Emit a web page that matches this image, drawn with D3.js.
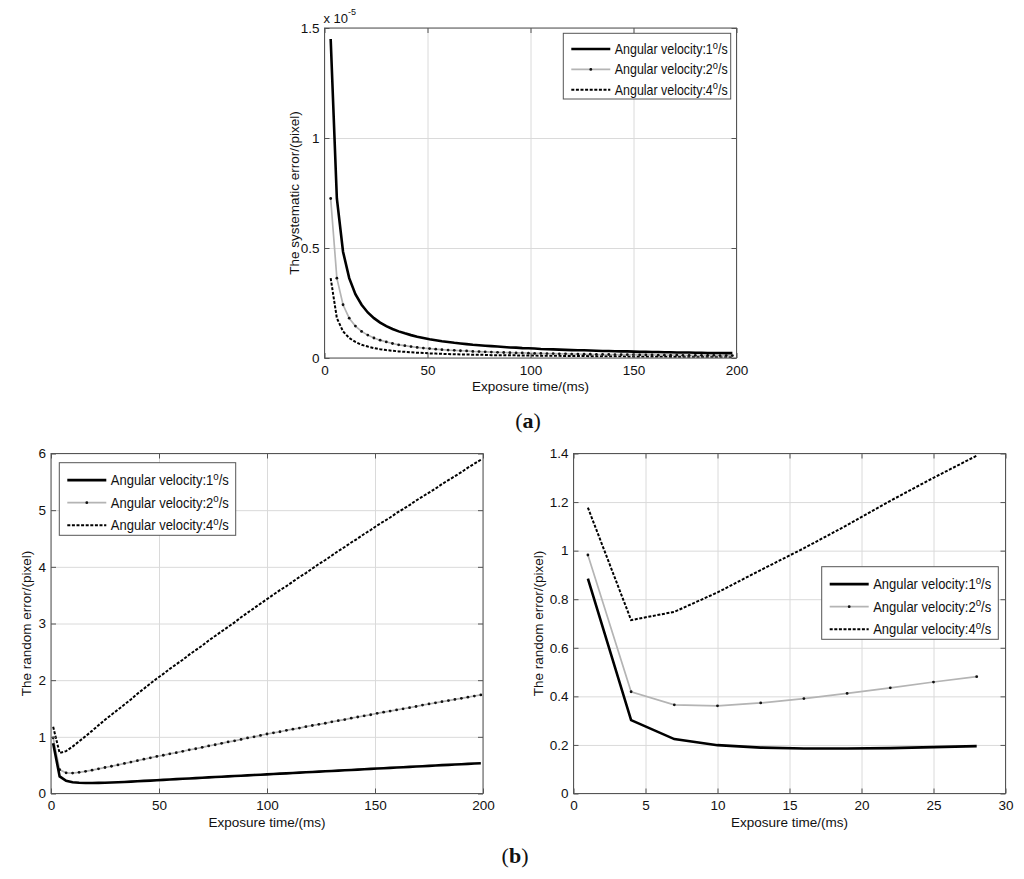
<!DOCTYPE html>
<html>
<head>
<meta charset="utf-8">
<script src="https://cdn.jsdelivr.net/npm/d3@7"></script>
<style>
body { margin: 0; background: #fff; }
svg text { font-family: "Liberation Sans", Arial, sans-serif; fill: #111; }
</style>
</head>
<body>
<script>
// (a) systematic error, values in units of 1e-5 pixel
var sysTime = [3, 6, 9, 12, 15, 18, 21, 24, 27, 30, 33, 36, 39, 42, 45, 48, 51, 54, 57, 60,
  63, 66, 69, 72, 75, 78, 81, 84, 87, 90, 93, 96, 99, 102, 105, 108, 111, 114, 117, 120,
  123, 126, 129, 132, 135, 138, 141, 144, 147, 150, 153, 156, 159, 162, 165, 168, 171, 174, 177, 180,
  183, 186, 189, 192, 195, 198];
var sysErr1 = [1.45, 0.725, 0.483, 0.363, 0.29, 0.242, 0.207, 0.181, 0.161, 0.145, 0.132, 0.121, 0.112, 0.104, 0.097, 0.091, 0.085, 0.081, 0.076, 0.073,
  0.069, 0.066, 0.063, 0.060, 0.058, 0.056, 0.054, 0.052, 0.050, 0.048, 0.047, 0.045, 0.044, 0.043, 0.041, 0.040, 0.039, 0.038, 0.037, 0.036,
  0.035, 0.035, 0.034, 0.033, 0.032, 0.032, 0.031, 0.030, 0.030, 0.029, 0.028, 0.028, 0.027, 0.027, 0.026, 0.026, 0.025, 0.025, 0.025, 0.024,
  0.024, 0.023, 0.023, 0.023, 0.022, 0.022];
var sysErr2 = [0.725, 0.363, 0.242, 0.181, 0.145, 0.121, 0.104, 0.091, 0.081, 0.073, 0.066, 0.060, 0.056, 0.052, 0.048, 0.045, 0.043, 0.040, 0.038, 0.036,
  0.035, 0.033, 0.032, 0.030, 0.029, 0.028, 0.027, 0.026, 0.025, 0.024, 0.023, 0.023, 0.022, 0.021, 0.021, 0.020, 0.020, 0.019, 0.019, 0.018,
  0.018, 0.017, 0.017, 0.016, 0.016, 0.016, 0.015, 0.015, 0.015, 0.015, 0.014, 0.014, 0.014, 0.013, 0.013, 0.013, 0.013, 0.012, 0.012, 0.012,
  0.012, 0.012, 0.012, 0.011, 0.011, 0.011];
var sysErr3 = [0.363, 0.181, 0.121, 0.091, 0.073, 0.060, 0.052, 0.045, 0.040, 0.036, 0.033, 0.030, 0.028, 0.026, 0.024, 0.023, 0.021, 0.020, 0.019, 0.018,
  0.017, 0.016, 0.016, 0.015, 0.015, 0.014, 0.013, 0.013, 0.013, 0.012, 0.012, 0.011, 0.011, 0.011, 0.010, 0.010, 0.010, 0.010, 0.009, 0.009,
  0.009, 0.009, 0.008, 0.008, 0.008, 0.008, 0.008, 0.008, 0.007, 0.007, 0.007, 0.007, 0.007, 0.007, 0.007, 0.006, 0.006, 0.006, 0.006, 0.006,
  0.006, 0.006, 0.006, 0.006, 0.006, 0.005];

// (b) random error, pixel
var randTime = [1, 4, 7, 10, 13, 16, 19, 22, 25, 28, 31, 34, 37, 40, 43, 46, 49, 52, 55, 58,
  61, 64, 67, 70, 73, 76, 79, 82, 85, 88, 91, 94, 97, 100, 103, 106, 109, 112, 115, 118,
  121, 124, 127, 130, 133, 136, 139, 142, 145, 148, 151, 154, 157, 160, 163, 166, 169, 172, 175, 178,
  181, 184, 187, 190, 193, 196, 199];
var randErr1 = [0.885, 0.302, 0.224, 0.199, 0.189, 0.185, 0.185, 0.187, 0.191, 0.195,
  0.199, 0.204, 0.210, 0.216, 0.222, 0.228, 0.235, 0.241, 0.248, 0.254, 0.260, 0.266, 0.272, 0.278, 0.284, 0.290, 0.296, 0.302, 0.308, 0.314,
  0.320, 0.326, 0.332, 0.338, 0.344, 0.350, 0.356, 0.362, 0.368, 0.374, 0.380, 0.386, 0.392, 0.398, 0.404, 0.410, 0.416, 0.422, 0.428, 0.434,
  0.440, 0.446, 0.452, 0.458, 0.464, 0.470, 0.476, 0.482, 0.488, 0.494, 0.500, 0.506, 0.512, 0.517, 0.523, 0.529, 0.535];
var randErr2 = [0.982, 0.419, 0.365, 0.361, 0.373, 0.391, 0.412, 0.435, 0.459, 0.481,
  0.505, 0.53, 0.555, 0.58, 0.605, 0.63, 0.655, 0.675, 0.70, 0.72, 0.745, 0.77, 0.79, 0.815, 0.84, 0.86, 0.885, 0.91, 0.93, 0.955,
  0.98, 1.00, 1.025, 1.05, 1.07, 1.09, 1.115, 1.135, 1.155, 1.18, 1.20, 1.22, 1.24, 1.265, 1.285, 1.305, 1.33, 1.35, 1.37, 1.39,
  1.415, 1.435, 1.455, 1.475, 1.495, 1.515, 1.535, 1.56, 1.58, 1.60, 1.62, 1.64, 1.66, 1.68, 1.70, 1.72, 1.74];
var randErr3 = [1.177, 0.714, 0.748, 0.828, 0.92, 1.01, 1.105, 1.205, 1.30, 1.391,
  1.48, 1.57, 1.66, 1.76, 1.85, 1.94, 2.03, 2.11, 2.20, 2.28, 2.36, 2.45, 2.53, 2.61, 2.70, 2.78, 2.86, 2.94, 3.02, 3.11,
  3.19, 3.27, 3.35, 3.43, 3.51, 3.59, 3.66, 3.74, 3.82, 3.89, 3.97, 4.05, 4.12, 4.20, 4.28, 4.35, 4.43, 4.50, 4.58, 4.65,
  4.73, 4.80, 4.87, 4.95, 5.02, 5.09, 5.17, 5.24, 5.31, 5.38, 5.46, 5.53, 5.60, 5.67, 5.75, 5.82, 5.89];
var zoomCount = 10; // the right panel shows the first 10 samples

var velocities = ['1', '2', '4'];
var sysXTicks = [0, 50, 100, 150, 200];
var sysYTicks = [0, 0.5, 1, 1.5];
var randXTicks = [0, 50, 100, 150, 200];
var randYTicks = [0, 1, 2, 3, 4, 5, 6];
var zoomXTicks = [0, 5, 10, 15, 20, 25, 30];
var zoomYTicks = [0, 0.2, 0.4, 0.6, 0.8, 1, 1.2, 1.4];

var styles = [
  { stroke: '#000', width: 2.6, dash: null, dots: false },
  { stroke: '#b4b4b4', width: 1.7, dash: null, dots: true },
  { stroke: '#000', width: 2, dash: '3,1.6', dots: false }
];

var svg = d3.select('body').append('svg')
  .attr('width', 1024)
  .attr('height', 879);

function drawPanel(p) {
  var w = p.right - p.left, h = p.bottom - p.top;
  var x = d3.scaleLinear().domain(p.xDomain).range([0, w]);
  var y = d3.scaleLinear().domain(p.yDomain).range([h, 0]);
  var g = svg.append('g').attr('transform', 'translate(' + p.left + ',' + p.top + ')');

  // grid
  g.append('g').attr('class', 'grid')
    .attr('transform', 'translate(0,' + h + ')')
    .call(d3.axisBottom(x).tickValues(p.xTicks).tickSize(-h).tickFormat(''));
  g.append('g').attr('class', 'grid')
    .call(d3.axisLeft(y).tickValues(p.yTicks).tickSize(-w).tickFormat(''));
  g.selectAll('.grid .domain').remove();
  g.selectAll('.grid line').attr('stroke', '#dadada').attr('stroke-width', 1);

  var clipId = 'clip' + p.id;
  g.append('clipPath').attr('id', clipId)
    .append('rect').attr('width', w).attr('height', h);

  var line = d3.line()
    .x(function (d) { return x(d[0]); })
    .y(function (d) { return y(d[1]); });

  var lines = g.append('g').attr('clip-path', 'url(#' + clipId + ')');
  // draw in reverse so the solid curve stays on top
  for (var i = p.series.length - 1; i >= 0; i--) {
    var s = p.series[i], st = styles[i];
    var pts = d3.zip(s.x, s.y);
    lines.append('path')
      .attr('d', line(pts))
      .attr('fill', 'none')
      .attr('stroke', st.stroke)
      .attr('stroke-width', st.width)
      .attr('stroke-dasharray', st.dash);
    if (st.dots) {
      lines.selectAll('.dot' + i)
        .data(pts)
        .enter()
        .append('circle')
        .attr('cx', function (d) { return x(d[0]); })
        .attr('cy', function (d) { return y(d[1]); })
        .attr('r', 1.4)
        .attr('fill', '#111');
    }
  }

  // axes with inward ticks
  var ax = g.append('g').attr('transform', 'translate(0,' + h + ')')
    .call(d3.axisBottom(x).tickValues(p.xTicks).tickSize(-5).tickSizeOuter(0).tickPadding(7).tickFormat(d3.format('')));
  var ay = g.append('g')
    .call(d3.axisLeft(y).tickValues(p.yTicks).tickSize(-5).tickSizeOuter(0).tickPadding(5).tickFormat(d3.format('')));
  var at = g.append('g')
    .call(d3.axisTop(x).tickValues(p.xTicks).tickSize(-5).tickSizeOuter(0).tickFormat(''));
  var ar = g.append('g').attr('transform', 'translate(' + w + ',0)')
    .call(d3.axisRight(y).tickValues(p.yTicks).tickSize(-5).tickSizeOuter(0).tickFormat(''));
  [ax, ay, at, ar].forEach(function (a) {
    a.select('.domain').remove();
    a.selectAll('line').attr('stroke', '#555');
    a.selectAll('text').attr('font-size', 13.5).attr('fill', '#111')
      .style('font-family', '"Liberation Sans", Arial, sans-serif');
  });

  g.append('rect')
    .attr('width', w).attr('height', h)
    .attr('fill', 'none').attr('stroke', '#555').attr('stroke-width', 1);

  // axis titles
  g.append('text')
    .attr('x', w / 2).attr('y', h + 33)
    .attr('text-anchor', 'middle').attr('font-size', 13.5)
    .text('Exposure time/(ms)');
  g.append('text')
    .attr('transform', 'translate(' + p.yLabelX + ',' + (h / 2) + ') rotate(-90)')
    .attr('text-anchor', 'middle').attr('font-size', 13.5)
    .text(p.yLabel);

  // legend
  var L = p.legend;
  var lg = svg.append('g').attr('transform', 'translate(' + L.x + ',' + L.y + ')');
  lg.append('rect').attr('width', L.w).attr('height', L.h)
    .attr('fill', '#fff').attr('stroke', '#555').attr('stroke-width', 1);
  var rows = [0.24, 0.55, 0.86];
  velocities.forEach(function (v, i) {
    var ry = L.h * rows[i], st = styles[i];
    lg.append('line')
      .attr('x1', 8).attr('x2', 47).attr('y1', ry).attr('y2', ry)
      .attr('stroke', st.stroke).attr('stroke-width', st.width)
      .attr('stroke-dasharray', st.dash);
    if (st.dots) {
      lg.append('circle').attr('cx', 27.5).attr('cy', ry).attr('r', 1.4).attr('fill', '#111');
    }
    var tg = lg.append('g').attr('transform', 'translate(51.5,' + (ry + 5) + ')');
    var t = tg.append('text').attr('font-size', 14);
    t.append('tspan').text('Angular velocity:' + v);
    t.append('tspan').attr('font-size', 10.5).attr('dy', -5.5).text('o');
    t.append('tspan').attr('dy', 5.5).text('/s');
    var len = t.node().getComputedTextLength();
    if (len > L.textW) tg.attr('transform', 'translate(51.5,' + (ry + 5) + ') scale(' + (L.textW / len) + ',1)');
  });
  return g;
}

var ga = drawPanel({
  id: 'a', left: 324.5, right: 736.5, top: 28, bottom: 358,
  xDomain: [0, 200], yDomain: [0, 1.5],
  xTicks: sysXTicks, yTicks: sysYTicks,
  yLabel: 'The systematic error/(pixel)', yLabelX: -26,
  series: [
    { x: sysTime, y: sysErr1 },
    { x: sysTime, y: sysErr2 },
    { x: sysTime, y: sysErr3 }
  ],
  legend: { x: 563.3, y: 33.3, w: 167.4, h: 65.7, textW: 113 }
});
// exponent label for panel (a)
var ex = ga.append('text').attr('x', -1).attr('y', -5).attr('font-size', 13);
ex.append('tspan').text('x 10');
ex.append('tspan').attr('font-size', 9).attr('dy', -8).text('-5');

drawPanel({
  id: 'bl', left: 51, right: 483, top: 453.5, bottom: 793.5,
  xDomain: [0, 200], yDomain: [0, 6],
  xTicks: randXTicks, yTicks: randYTicks,
  yLabel: 'The random error/(pixel)', yLabelX: -20,
  series: [
    { x: randTime, y: randErr1 },
    { x: randTime, y: randErr2 },
    { x: randTime, y: randErr3 }
  ],
  legend: { x: 59.3, y: 462.7, w: 176.4, h: 72.6, textW: 118 }
});

drawPanel({
  id: 'br', left: 573.5, right: 1005.5, top: 453.5, bottom: 793.5,
  xDomain: [0, 30], yDomain: [0, 1.4],
  xTicks: zoomXTicks, yTicks: zoomYTicks,
  yLabel: 'The random error/(pixel)', yLabelX: -31,
  series: [
    { x: randTime.slice(0, zoomCount), y: randErr1.slice(0, zoomCount) },
    { x: randTime.slice(0, zoomCount), y: randErr2.slice(0, zoomCount) },
    { x: randTime.slice(0, zoomCount), y: randErr3.slice(0, zoomCount) }
  ],
  legend: { x: 821.7, y: 566.7, w: 176.6, h: 72.6, textW: 118 }
});

// panel captions
var capA = svg.append('text').attr('x', 528).attr('y', 428).attr('text-anchor', 'middle')
  .attr('font-size', 22).style('font-family', '"Liberation Serif", "Times New Roman", serif');
capA.append('tspan').text('(');
capA.append('tspan').attr('font-weight', 'bold').text('a');
capA.append('tspan').text(')');
var capB = svg.append('text').attr('x', 515).attr('y', 863).attr('text-anchor', 'middle')
  .attr('font-size', 22).style('font-family', '"Liberation Serif", "Times New Roman", serif');
capB.append('tspan').text('(');
capB.append('tspan').attr('font-weight', 'bold').text('b');
capB.append('tspan').text(')');
</script>
</body>
</html>
